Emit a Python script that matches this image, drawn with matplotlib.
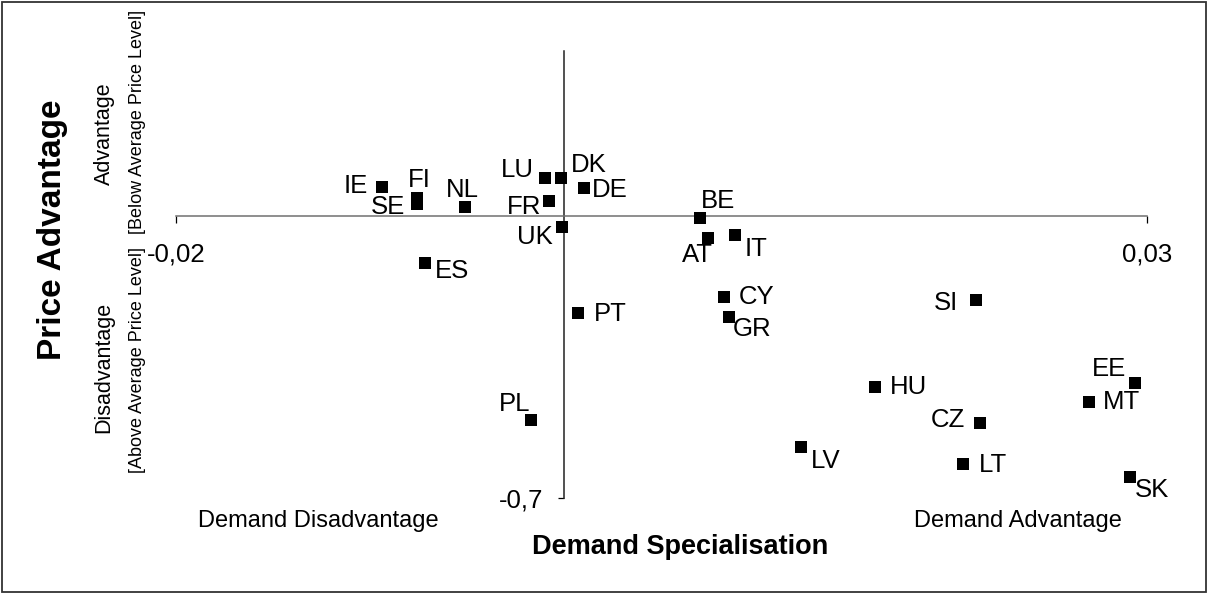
import matplotlib
matplotlib.use("Agg")
import matplotlib.pyplot as plt
from matplotlib.patches import Rectangle

plt.rcParams["font.family"] = ["Liberation Sans", "DejaVu Sans"]

# data
countries = ["IE", "FI", "SE", "NL", "LU", "DK", "FR", "UK", "ES", "DE", "BE", "AT", "IT",
             "CY", "GR", "PT", "PL", "LV", "SI", "HU", "EE", "MT", "CZ", "LT", "SK"]
demand = [-0.0094, -0.0076, -0.0076, -0.0051, -0.0010, -0.0002, -0.0008, -0.0001, -0.0072,
          0.0010, 0.0070, 0.0074, 0.0088, 0.0082, 0.0085, 0.0007, -0.0017, 0.0122, 0.0212,
          0.0160, 0.0294, 0.0270, 0.0214, 0.0205, 0.0291]
price = [0.074, 0.047, 0.032, 0.023, 0.096, 0.096, 0.038, -0.027, -0.116, 0.070, -0.004,
         -0.054, -0.045, -0.200, -0.250, -0.241, -0.506, -0.572, -0.208, -0.424, -0.415,
         -0.461, -0.514, -0.616, -0.649]
xticks = [-0.02, 0.03]
xticklabels = ["-0,02", "0,03"]
yticks = [-0.7]
yticklabels = ["-0,7"]

# label placement (pixels from the marker)
label_offsets = {
    "IE": (-26, 4), "FI": (3, 21), "SE": (-29, 0), "NL": (-3, 20), "LU": (-28, 11),
    "DK": (28, 16), "FR": (-25, -3), "UK": (-28, -7), "ES": (27, -5), "DE": (26, 1),
    "BE": (18, 20), "AT": (-11, -14), "IT": (21, -11), "CY": (33, 3), "GR": (23, -9),
    "PT": (32, 2), "PL": (-17, 19), "LV": (24, -11), "SI": (-30, 0), "HU": (33, 3),
    "EE": (-26, 17), "MT": (33, 3), "CZ": (-32, 6), "LT": (30, 2), "SK": (22, -10),
}

W, H = 1212, 599
fig = plt.figure(figsize=(W / 100, H / 100), dpi=100)
ax = fig.add_axes([176 / W, 101 / H, 971 / W, 446.5 / H])

ax.scatter(demand, price, marker="s", s=76, color="black", linewidths=0, zorder=3)
for name, x, y in zip(countries, demand, price):
    dx, dy = label_offsets[name]
    ax.annotate(name, (x, y), xytext=(dx, dy - 3), textcoords="offset pixels",
                ha="center", va="center", fontsize=18.5, color="black")

ax.set_xlim(-0.02, 0.03)
ax.set_ylim(-0.7, 0.41)
ax.spines["top"].set_visible(False)
ax.spines["right"].set_visible(False)
ax.spines["left"].set_position(("data", 0))
ax.spines["bottom"].set_position(("data", 0))
ax.spines["bottom"].set_color("#707070")
ax.spines["left"].set_color("#222222")
ax.spines["bottom"].set_linewidth(1.1)
ax.spines["left"].set_linewidth(1.1)

ax.set_xticks(xticks)
ax.set_xticklabels(xticklabels)
ax.set_yticks(yticks)
ax.set_yticklabels(yticklabels)
ax.tick_params(axis="x", direction="out", length=5, width=0.9, pad=14, labelsize=18.5)
ax.tick_params(axis="y", direction="out", length=4, width=0.9, pad=11, labelsize=18.5)
ax.patch.set_alpha(0)

# axis titles and quadrant notes
fig.text(52 / W, 1 - 230 / H, "Price Advantage", rotation=90, ha="center", va="center",
         fontsize=24, fontweight="bold")
fig.text(104 / W, 1 - 134 / H, "Advantage", rotation=90, ha="center", va="center", fontsize=15.5)
fig.text(104 / W, 1 - 367 / H, "Disadvantage", rotation=90, ha="center", va="center", fontsize=15.5)
fig.text(138 / W, 1 - 122 / H, "[Below Average Price Level]", rotation=90, ha="center",
         va="center", fontsize=13)
fig.text(138 / W, 1 - 360 / H, "[Above Average Price Level]", rotation=90, ha="center",
         va="center", fontsize=13)
fig.text(318 / W, 1 - 521 / H, "Demand Disadvantage", ha="center", va="center", fontsize=17)
fig.text(1018 / W, 1 - 521 / H, "Demand Advantage", ha="center", va="center", fontsize=17)
fig.text(680 / W, 1 - 547 / H, "Demand Specialisation", ha="center", va="center",
         fontsize=19.5, fontweight="bold")

# outer chart border
fig.patches.append(Rectangle((2 / W, 1 - 592 / H), 1204 / W, 590.5 / H, transform=fig.transFigure,
                             fill=False, edgecolor="#333333", linewidth=1.3))

fig.savefig("out.png", dpi=100)
plt.close(fig)
